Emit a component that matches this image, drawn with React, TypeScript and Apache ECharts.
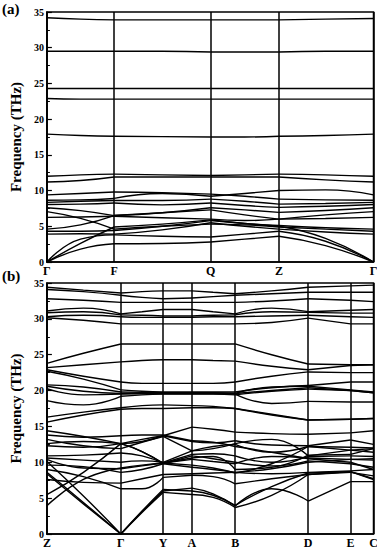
import { useEffect, useRef } from 'react';
import * as echarts from 'echarts';

// ---------- panel (a) ----------
const labelsA = ['Γ', 'F', 'Q', 'Z', 'Γ'];
const kpointsA = [0, 70, 170.5, 241.5, 340];
const samplesA = [0, 35, 70, 120, 170.5, 206, 241.5, 290, 340];
const segmentsA = [[0, 2], [2, 4], [4, 6], [6, 8]];

const bandsA: number[][] = [
  [34.2, 34.0, 33.9, 33.9, 33.9, 33.9, 33.9, 34.0, 34.1],
  [29.5, 29.5, 29.5, 29.5, 29.4, 29.4, 29.4, 29.5, 29.5],
  [24.3, 24.3, 24.3, 24.3, 24.3, 24.3, 24.3, 24.3, 24.3],
  [22.9, 22.8, 22.8, 22.8, 22.8, 22.8, 22.8, 22.8, 22.8],
  [17.9, 17.7, 17.6, 17.55, 17.5, 17.5, 17.6, 17.7, 17.9],
  [12.0, 12.2, 12.3, 12.2, 12.1, 12.2, 12.3, 12.2, 12.0],
  [11.2, 11.4, 11.9, 11.9, 11.9, 11.9, 11.9, 11.5, 11.2],
  [9.4, 9.6, 9.8, 9.7, 9.5, 9.2, 8.8, 8.7, 8.65],
  [8.65, 8.7, 8.9, 9.6, 9.2, 9.6, 10.0, 10.1, 9.4],
  [8.35, 8.5, 8.6, 8.6, 8.8, 8.5, 8.1, 8.2, 8.35],
  [8.05, 8.1, 8.25, 8.0, 8.25, 7.9, 7.65, 7.8, 8.05],
  [7.6, 7.2, 6.5, 6.9, 7.6, 7.3, 6.95, 7.2, 7.6],
  [7.05, 6.1, 4.6, 5.0, 5.3, 5.2, 4.9, 4.6, 4.3],
  [6.25, 6.3, 6.4, 6.2, 6.0, 5.8, 6.0, 6.6, 7.05],
  [4.6, 5.2, 6.5, 6.9, 7.3, 6.6, 6.0, 6.1, 6.25],
  [4.3, 4.3, 4.4, 5.0, 5.8, 5.4, 5.1, 4.8, 4.6],
  [3.9, 3.95, 3.9, 4.5, 5.5, 5.0, 4.6, 4.2, 3.9],
  [0, 1.8, 2.55, 2.6, 2.8, 3.2, 3.6, 2.3, 0],
  [0, 3.2, 3.8, 3.6, 3.5, 3.9, 4.3, 2.9, 0],
  [0, 2.6, 4.9, 5.3, 5.9, 5.4, 5.0, 3.3, 0],
];

// ---------- panel (b) ----------
const labelsB = ['Z', 'Γ', 'Y', 'A', 'B', 'D', 'E', 'C'];
const kpointsB = [0, 77, 121, 151, 196, 272, 316, 340];
const samplesB = [0, 38, 77, 99, 121, 151, 173, 196, 234, 272, 316, 340];
const segmentsB = [[0, 2], [2, 4], [4, 5], [5, 7], [7, 9], [9, 10], [10, 11]];

const bandsBHigh: number[][] = [
  [34.4, 34.0, 33.6, 33.8, 33.9, 33.9, 33.7, 33.5, 33.9, 34.4, 34.6, 34.7],
  [34.1, 33.8, 33.3, 33.0, 32.8, 32.9, 33.1, 33.3, 33.5, 33.7, 33.7, 33.7],
  [32.8, 32.6, 32.3, 32.3, 32.3, 32.3, 32.3, 32.3, 32.5, 32.8, 32.6, 32.4],
  [31.1, 31.5, 30.7, 31.0, 31.3, 31.3, 31.0, 30.7, 31.5, 31.0, 31.2, 31.3],
  [30.85, 31.0, 30.55, 30.5, 30.4, 30.4, 30.5, 30.55, 31.0, 30.9, 30.8, 30.8],
  [30.3, 30.5, 30.3, 30.2, 30.2, 30.2, 30.3, 30.3, 30.4, 30.5, 30.3, 30.2],
  [30.15, 29.8, 29.3, 29.3, 29.3, 29.3, 29.3, 29.3, 29.5, 30.1, 29.3, 29.3],
];

const bandsBMid: number[][] = [
  [23.8, 25.2, 26.5, 26.5, 26.5, 26.5, 26.5, 26.5, 25.0, 23.7, 23.6, 23.6],
  [23.2, 23.6, 24.0, 24.2, 24.3, 24.3, 24.2, 24.1, 23.4, 22.9, 23.5, 23.6],
  [22.9, 22.0, 21.2, 21.0, 21.0, 21.0, 21.0, 21.2, 22.0, 22.6, 22.5, 22.5],
  [22.7, 21.6, 20.1, 19.9, 19.8, 19.8, 19.8, 19.8, 20.4, 20.7, 21.2, 21.2],
  [20.8, 20.5, 19.8, 19.75, 19.7, 19.7, 19.7, 19.6, 20.5, 20.6, 20.1, 19.8],
  [20.6, 19.9, 19.6, 19.6, 19.6, 19.6, 19.6, 19.5, 18.2, 18.5, 18.4, 18.4],
  [20.25, 19.4, 19.5, 19.6, 19.6, 19.6, 19.6, 19.6, 20.0, 20.4, 20.0, 19.7],
  [18.6, 18.0, 19.2, 19.4, 19.5, 19.5, 19.5, 19.4, 19.9, 20.2, 20.0, 19.7],
  [16.3, 17.0, 17.6, 17.9, 18.0, 17.9, 17.8, 17.5, 16.6, 15.9, 16.0, 16.1],
  [15.6, 16.6, 17.4, 17.5, 17.5, 17.6, 17.6, 17.5, 16.7, 15.9, 16.0, 16.1],
];

const bandsBLow: number[][] = [
  [8.6, 4.4, 0, 3.0, 5.8, 5.5, 5.1, 3.7, 5.4, 8.3, 8.6, 8.1],
  [8.4, 4.2, 0, 3.1, 6.0, 6.4, 5.6, 3.9, 6.3, 4.6, 7.3, 7.3],
  [10.1, 5.3, 0, 3.2, 6.2, 6.0, 5.4, 4.0, 6.6, 8.5, 8.7, 7.7],
  [3.95, 7.6, 9.2, 9.6, 9.9, 10.4, 10.1, 9.8, 10.8, 10.6, 10.4, 10.3],
  [5.5, 8.6, 12.6, 12.9, 13.7, 14.9, 14.6, 14.2, 14.0, 13.9, 14.1, 14.4],
  [7.6, 7.2, 7.1, 7.7, 8.3, 8.4, 8.5, 8.6, 8.4, 8.6, 8.8, 9.0],
  [9.0, 8.0, 6.3, 6.3, 7.9, 8.2, 8.0, 7.0, 7.7, 8.3, 8.7, 7.6],
  [9.6, 9.4, 8.6, 9.0, 9.8, 10.9, 10.5, 10.0, 9.5, 10.2, 9.8, 9.3],
  [10.4, 9.2, 9.1, 9.5, 9.9, 11.1, 11.2, 10.9, 10.0, 10.8, 10.9, 10.8],
  [10.6, 10.3, 10.0, 10.2, 10.0, 11.6, 12.2, 12.5, 11.4, 12.2, 11.7, 11.4],
  [10.9, 11.0, 11.3, 10.9, 9.9, 10.6, 10.8, 9.0, 9.3, 11.0, 11.1, 11.9],
  [12.3, 12.1, 12.6, 11.5, 9.8, 9.3, 9.0, 8.6, 9.1, 10.0, 10.4, 10.5],
  [12.6, 12.9, 12.6, 13.2, 13.7, 12.9, 12.7, 13.0, 12.4, 12.3, 13.1, 12.5],
  [13.2, 12.3, 11.9, 12.8, 13.6, 11.6, 11.9, 12.6, 13.2, 10.9, 11.7, 11.9],
  [13.8, 13.5, 13.7, 13.8, 13.8, 13.0, 12.8, 12.2, 11.4, 10.5, 10.0, 9.0],
  [14.4, 13.6, 12.6, 11.5, 9.9, 9.6, 9.2, 8.5, 9.8, 12.2, 12.1, 12.0],
];

const FONT = 'Liberation Serif';

function buildSeries(bands: number[][], xs: number[], segs: number[][], idx: number) {
  const out: any[] = [];
  bands.forEach((b) => {
    segs.forEach(([s, e]) => {
      const data: number[][] = [];
      for (let i = s; i <= e; i++) data.push([xs[i], b[i]]);
      out.push({
        type: 'line',
        xAxisIndex: idx,
        yAxisIndex: idx,
        data,
        smooth: 0.5,
        symbol: 'none',
        silent: true,
        lineStyle: { color: '#000', width: 1.4 },
        z: 2,
      });
    });
  });
  return out;
}

function markSeries(kp: number[], labels: string[], idx: number) {
  return {
    type: 'line',
    xAxisIndex: idx,
    yAxisIndex: idx,
    data: [],
    symbol: 'none',
    silent: true,
    markLine: {
      symbol: ['none', 'none'],
      silent: true,
      animation: false,
      lineStyle: { color: '#000', width: 1.5, type: 'solid' },
      label: {
        show: true,
        position: 'start',
        distance: 3,
        formatter: (p: any) => p.name,
        color: '#000',
        fontFamily: FONT,
        fontWeight: 'bold',
        fontSize: 12,
      },
      data: kp.map((x, i) => ({ xAxis: x, name: labels[i] })),
    },
  };
}

function yAxisDef(idx: number) {
  return {
    type: 'value',
    gridIndex: idx,
    min: 0,
    max: 35,
    interval: 5,
    name: 'Frequency (THz)',
    nameLocation: 'middle',
    nameGap: 17,
    nameTextStyle: { color: '#000', fontFamily: FONT, fontWeight: 'bold', fontSize: 15 },
    axisLine: { show: true, lineStyle: { color: '#000', width: 1.5 } },
    axisTick: { show: true, inside: true, length: 5, lineStyle: { color: '#000', width: 1.2 } },
    minorTick: { show: true, splitNumber: 2, length: 3, lineStyle: { color: '#000', width: 1 } },
    splitLine: { show: false },
    minorSplitLine: { show: false },
    axisLabel: { color: '#000', fontFamily: FONT, fontWeight: 'bold', fontSize: 10, margin: 3 },
  };
}

function xAxisDef(idx: number) {
  return {
    type: 'value',
    gridIndex: idx,
    min: 0,
    max: 340,
    axisLine: { show: true, lineStyle: { color: '#000', width: 1.5 } },
    axisTick: { show: false },
    axisLabel: { show: false },
    splitLine: { show: false },
  };
}

export default function App() {
  const ref = useRef<HTMLDivElement>(null);
  useEffect(() => {
    if (!ref.current) return;
    const chart = echarts.init(ref.current, null, { renderer: 'svg' });
    chart.setOption({
      animation: false,
      backgroundColor: '#fff',
      textStyle: { fontFamily: FONT },
      grid: [
        { left: 33.5, top: 12, width: 340, height: 250, show: true, borderColor: '#000', borderWidth: 1.5 },
        { left: 33.5, top: 283, width: 340, height: 251, show: true, borderColor: '#000', borderWidth: 1.5 },
      ],
      xAxis: [xAxisDef(0), xAxisDef(1)],
      yAxis: [yAxisDef(0), yAxisDef(1)],
      graphic: [
        { type: 'text', left: 2, top: 1, style: { text: '(a)', fill: '#000', fontFamily: FONT, fontWeight: 'bold', fontSize: 15 } },
        { type: 'text', left: 2, top: 268, style: { text: '(b)', fill: '#000', fontFamily: FONT, fontWeight: 'bold', fontSize: 15 } },
      ],
      series: [
        markSeries(kpointsA, labelsA, 0),
        markSeries(kpointsB, labelsB, 1),
        ...buildSeries(bandsA, samplesA, segmentsA, 0),
        ...buildSeries([...bandsBHigh, ...bandsBMid, ...bandsBLow], samplesB, segmentsB, 1),
      ],
    });
    return () => chart.dispose();
  }, []);
  return <div ref={ref} style={{ position: 'absolute', left: 0, top: 0, width: 377, height: 550 }} />;
}
